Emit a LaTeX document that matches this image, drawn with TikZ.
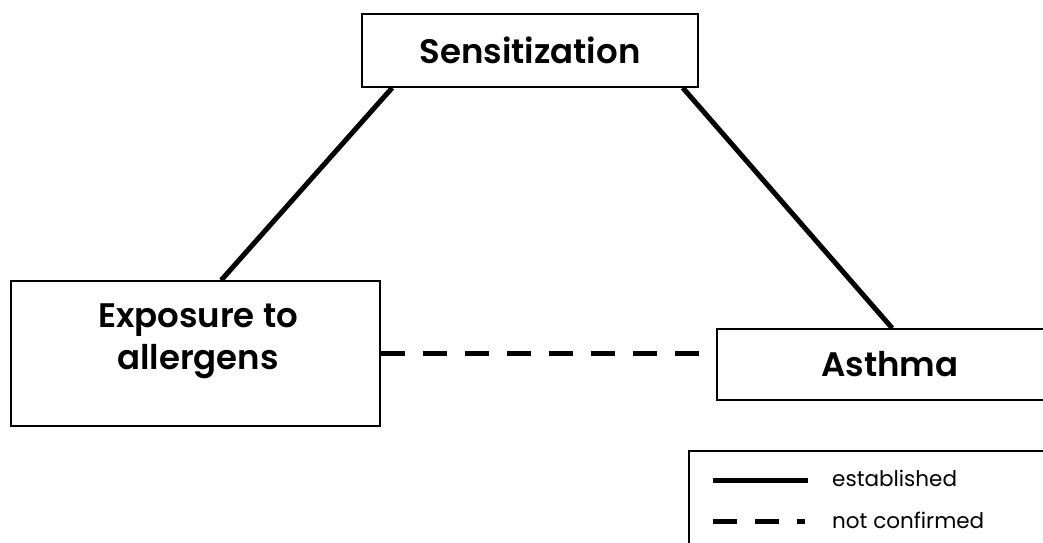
\documentclass[tikz,border=0pt]{standalone}
\usepackage{fontspec}
\setmainfont{Poppins}[BoldFont={Poppins SemiBold}]
\usetikzlibrary{calc}
\tikzset{
  boxnode/.style={draw=black, line width=1.6pt, inner sep=0pt},
  bigtext/.style={font=\fontsize{34}{44}\selectfont\bfseries, align=center, inner sep=0pt},
  legtext/.style={font=\fontsize{21.5}{26}\selectfont, anchor=west, inner sep=0pt},
  solidlink/.style={line width=5pt},
  dashlink/.style={line width=5pt, dash pattern=on 24pt off 18pt},
}
\begin{document}
\begin{tikzpicture}[x=1pt,y=1pt]
\clip (0,0) rectangle (1043,542);
\fill[white] (0,0) rectangle (1043,542);
% boxes (y = 542 - pixel row)
\node[boxnode, minimum width=336pt, minimum height=73pt] (sens) at (530,491.5) {};
\node[bigtext] (senst) at (530,491.5) {Sensitization};
\node[boxnode, minimum width=369pt, minimum height=145pt] (exp) at (195.5,188.5) {};
\node[bigtext] (expt) at (198,201) {Exposure to\\[-2pt]allergens};
\node[boxnode, minimum width=346pt, minimum height=71pt] (asth) at (890,177.5) {};
\node[bigtext] (astht) at (890,177.5) {Asthma};
% legend box
\node[boxnode, minimum width=380pt, minimum height=120pt, anchor=north west] (leg) at (688,92) {};
% connectors
\draw[solidlink] ($(sens.south west)+(31,0)$) -- ($(exp.north west)+(211,0)$);
\draw[solidlink] ($(sens.south east)+(-16,0)$) -- ($(asth.north west)+(176,0)$);
\draw[dashlink] (exp.east) -- (exp.east -| asth.west);
% legend
\coordinate (l1a) at (713,62);
\coordinate (l1b) at (808,62);
\coordinate (l2a) at (713,21);
\coordinate (l2b) at (805,21);
\draw[solidlink] (l1a) -- (l1b);
\draw[dashlink] (l2a) -- (l2b);
\node[legtext] (lt1) at (832,64) {established};
\node[legtext] (lt2) at (832,22) {not confirmed};
\end{tikzpicture}
\end{document}
